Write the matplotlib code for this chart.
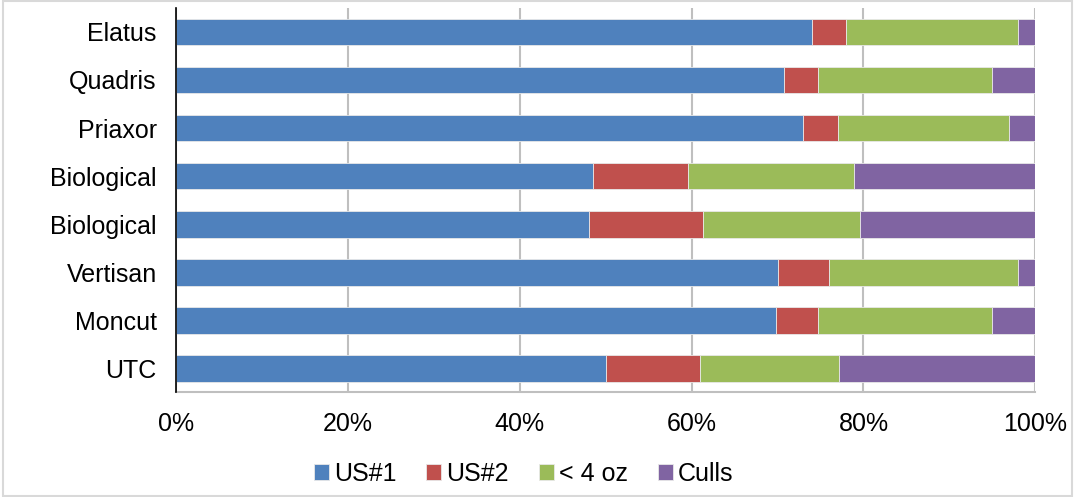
import matplotlib.pyplot as plt
from matplotlib.patches import Rectangle
import numpy as np

plt.rcParams['font.family'] = ['Liberation Sans', 'DejaVu Sans']

categories = ['Elatus', 'Quadris', 'Priaxor', 'Biological', 'Biological',
              'Vertisan', 'Moncut', 'UTC']
us1 = [74.0, 70.8, 73.0, 48.5, 48.1, 70.0, 69.8, 50.0]
us2 = [4.0, 3.9, 4.0, 11.1, 13.2, 6.0, 4.9, 11.0]
under4 = [20.0, 20.3, 20.0, 19.3, 18.3, 22.0, 20.3, 16.1]
culls = [2.0, 5.0, 3.0, 21.1, 20.4, 2.0, 5.0, 22.9]

series = [('US#1', us1, '#4F81BD'), ('US#2', us2, '#C0504D'),
          ('< 4 oz', under4, '#9BBB59'), ('Culls', culls, '#8064A2')]

fig = plt.figure(figsize=(10.75, 4.97), dpi=100)
fig.patches.append(Rectangle((0.003, 0.003), 0.994, 0.994, transform=fig.transFigure,
                             fill=False, edgecolor='#D9D9D9', linewidth=1.5))
ax = fig.add_axes([0.164, 0.211, 0.799, 0.773])

y = np.arange(len(categories))[::-1]
left = np.zeros(len(categories))
for name, vals, col in series:
    vals = np.array(vals)
    ax.barh(y, vals, left=left, height=0.56, color=col, label=name,
            edgecolor='#E8E8E8', linewidth=0.6, zorder=3)
    left += vals

fs = 18
ax.set_xlim(0, 100)
ax.set_ylim(-0.5, len(categories) - 0.5)
ax.set_yticks(y)
ax.set_yticklabels(categories, fontsize=fs)
ax.set_xticks(range(0, 101, 20))
ax.set_xticklabels([f'{v}%' for v in range(0, 101, 20)], fontsize=fs)
ax.tick_params(axis='y', length=0, pad=14)
ax.tick_params(axis='x', length=0, pad=14)
ax.grid(axis='x', color='#BFBFBF', linewidth=1.5, zorder=0)
for s in ['top', 'right']:
    ax.spines[s].set_visible(False)
ax.spines['left'].set_color('black')
ax.spines['left'].set_linewidth(1.2)
ax.spines['left'].set_zorder(4)
ax.spines['bottom'].set_color('#BFBFBF')
ax.spines['bottom'].set_linewidth(1.5)

ax.legend(loc='center', bbox_to_anchor=(0.487, 0.046), bbox_transform=fig.transFigure,
          ncol=4, frameon=False, fontsize=fs, handlelength=0.6, handleheight=0.6,
          handletextpad=0.2, columnspacing=1.2)

fig.savefig('out.png', dpi=100)
